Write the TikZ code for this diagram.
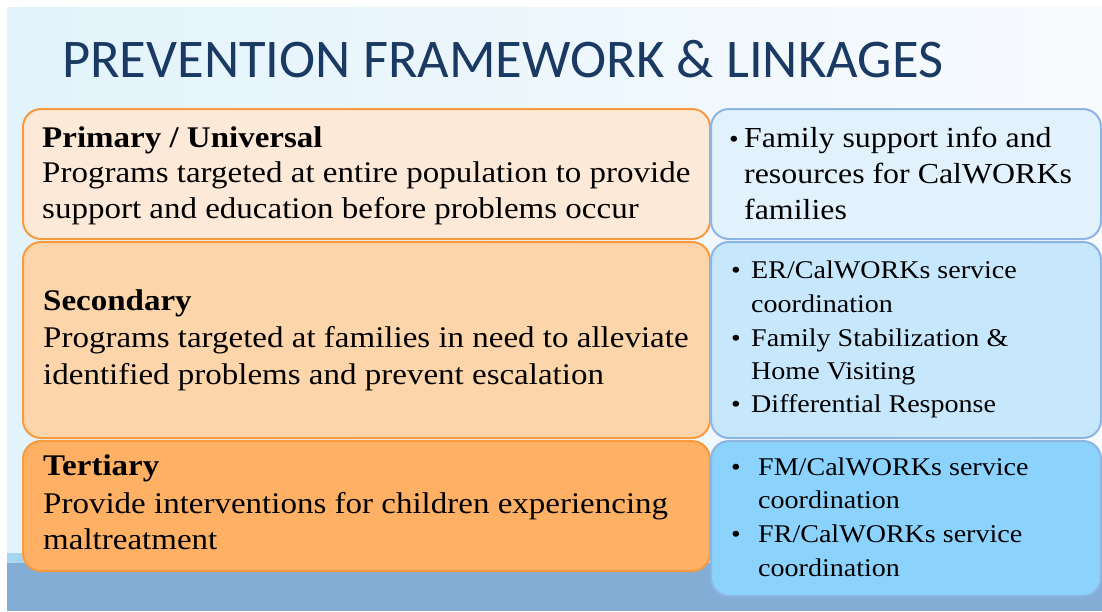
\documentclass[tikz,border=0pt]{standalone}
\usepackage{fontspec}
\newfontfamily\titlefont{Carlito}
\newfontfamily\palfont[FakeStretch=1.1]{Liberation Serif}
\definecolor{titleblue}{HTML}{1B3A63}
\definecolor{oone}{HTML}{FDE9D8}
\definecolor{otwo}{HTML}{FDD5AA}
\definecolor{othree}{HTML}{FEB065}
\definecolor{oline}{HTML}{F99A3E}
\definecolor{bone}{HTML}{E2F2FC}
\definecolor{btwo}{HTML}{C7E7FC}
\definecolor{bthree}{HTML}{8BD2FC}
\definecolor{bline}{HTML}{8CB5E3}
\definecolor{bgleft}{HTML}{E2F3FB}
\definecolor{bgright}{HTML}{F8FBFE}
\definecolor{strip}{HTML}{A5D8F0}
\definecolor{band}{HTML}{83ADD5}
\begin{document}
\begin{tikzpicture}[x=1pt,y=-1pt,
  obox/.style={draw=oline, line width=2pt, rounded corners=18pt, anchor=north west, inner sep=0pt},
  bbox/.style={draw=bline, line width=2pt, rounded corners=18pt, anchor=north west, inner sep=0pt},
  txt/.style={anchor=base west, inner sep=0pt, font=\palfont\fontsize{30}{34}\selectfont},
  head/.style={anchor=base west, inner sep=0pt, font=\palfont\bfseries\fontsize{30}{34}\selectfont},
  ptxt/.style={anchor=base west, inner sep=0pt, font=\palfont\fontsize{29}{34}\selectfont},
  btxt/.style={anchor=base west, inner sep=0pt, font=\palfont\fontsize{25.5}{30}\selectfont},
  bul/.style={anchor=base west, inner sep=0pt, font=\palfont\fontsize{25}{30}\selectfont}]
\useasboundingbox (0,0) rectangle (1102,611);
\fill[white] (0,0) rectangle (1102,611);
\shade[left color=bgleft, right color=bgright] (7,7) rectangle (1102,553);
\fill[strip] (7,553) rectangle (1102,563);
\fill[band] (7,563) rectangle (1102,611);

\node[anchor=base west, inner sep=0pt, text=titleblue, font=\titlefont\fontsize{54.5}{60}\selectfont] (title) at (62,77) {PREVENTION FRAMEWORK \& LINKAGES};

% left column boxes
\node[obox, fill=oone, minimum width=687pt, minimum height=130pt] (prim) at (22,108) {};
\node[obox, fill=otwo, minimum width=687pt, minimum height=196pt] (sec) at (22,241) {};
\node[obox, fill=othree, minimum width=687pt, minimum height=130pt] (ter) at (22,440) {};
% right column boxes
\node[bbox, fill=bone, minimum width=390pt, minimum height=130pt] (rprim) at (710,108) {};
\node[bbox, fill=btwo, minimum width=390pt, minimum height=196pt] (rsec) at (710,241) {};
\node[bbox, fill=bthree, minimum width=390pt, minimum height=155pt] (rter) at (710,440) {};

% primary
\node[head] (ph) at (42,147) {Primary / Universal};
\node[txt] (p1) at (42,182) {Programs targeted at entire population to provide};
\node[txt] (p2) at (42,218) {support and education before problems occur};
% secondary
\node[head] (sh) at (43,310) {Secondary};
\node[txt] (s1) at (43,347) {Programs targeted at families in need to alleviate};
\node[txt] (s2) at (43,384) {identified problems and prevent escalation};
% tertiary
\node[head] (th) at (43,475) {Tertiary};
\node[txt] (t1) at (43,513) {Provide interventions for children experiencing};
\node[txt] (t2) at (43,549) {maltreatment};

% right primary
\node[bul] (rpb) at (729,147) {\textbullet};
\node[ptxt] (rp1) at (744,147) {Family support info and};
\node[ptxt] (rp2) at (744,183) {resources for CalWORKs};
\node[ptxt] (rp3) at (744,219) {families};
% right secondary
\node[bul] (rsb1) at (731,278) {\textbullet};
\node[btxt] (rs1) at (751,278) {ER/CalWORKs service};
\node[btxt] (rs2) at (751,312) {coordination};
\node[bul] (rsb2) at (731,346) {\textbullet};
\node[btxt] (rs3) at (751,346) {Family Stabilization \&};
\node[btxt] (rs4) at (751,379) {Home Visiting};
\node[bul] (rsb3) at (731,412) {\textbullet};
\node[btxt] (rs5) at (751,412) {Differential Response};
% right tertiary
\node[bul] (rtb1) at (731,475) {\textbullet};
\node[btxt] (rt1) at (758,475) {FM/CalWORKs service};
\node[btxt] (rt2) at (758,508) {coordination};
\node[bul] (rtb2) at (731,542) {\textbullet};
\node[btxt] (rt3) at (758,542) {FR/CalWORKs service};
\node[btxt] (rt4) at (758,576) {coordination};
\end{tikzpicture}
\end{document}
